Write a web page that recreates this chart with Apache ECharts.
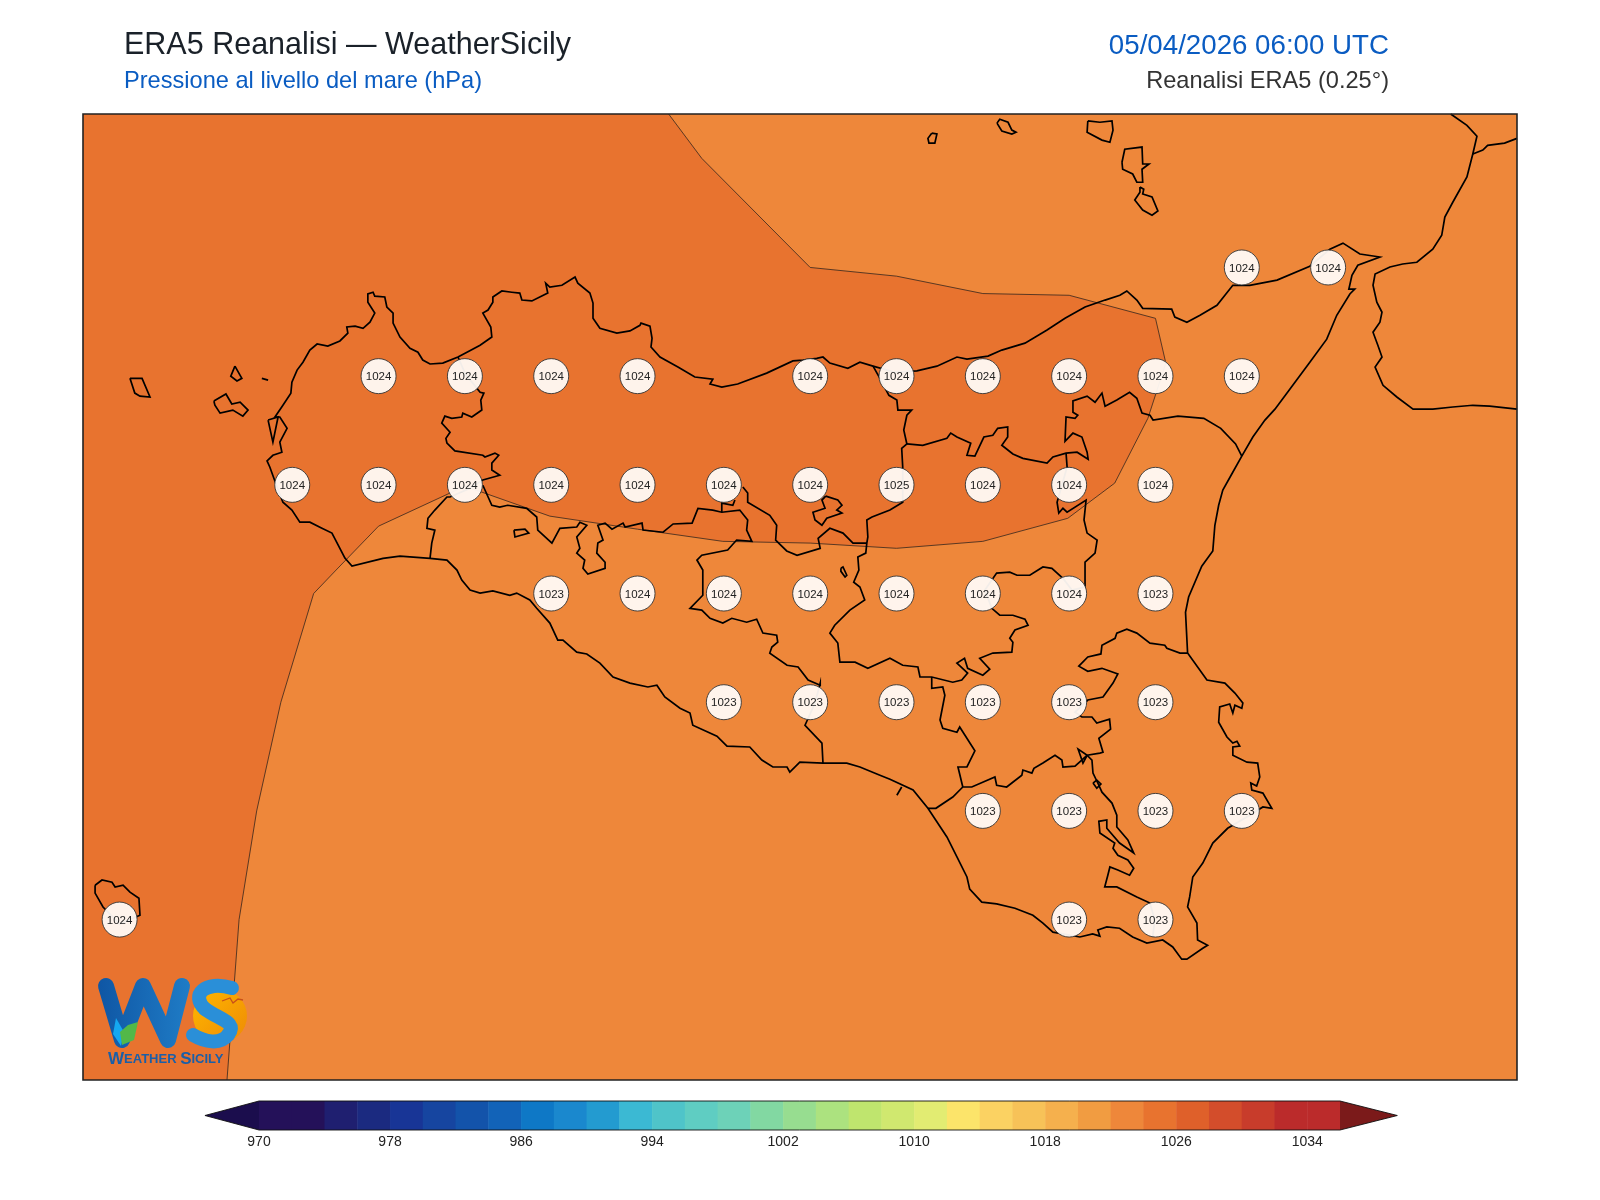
<!DOCTYPE html>
<html><head><meta charset="utf-8">
<style>html,body{margin:0;padding:0;background:#fff}#c{width:1600px;height:1200px}</style>
<script src="https://cdn.jsdelivr.net/npm/echarts@6/dist/echarts.min.js"></script>
</head><body><div id="c"></div>
<script>
const lonMin=11.894, lonMax=16.047, latMin=36.381, latMax=38.603;
// Sea level pressure labels on the 0.25 degree grid
const stationLon=[15.25,15.5, 12.75,13,13.25,13.5,14,14.25,14.5,14.75,15,15.25, 12.5,12.75,13,13.25,13.5,13.75,14,14.25,14.5,14.75,15, 13.25,13.5,13.75,14,14.25,14.5,14.75,15, 13.75,14,14.25,14.5,14.75,15, 14.5,14.75,15,15.25, 12,14.75,15];
const stationLat=[38.25,38.25, 38,38,38,38,38,38,38,38,38,38, 37.75,37.75,37.75,37.75,37.75,37.75,37.75,37.75,37.75,37.75,37.75, 37.5,37.5,37.5,37.5,37.5,37.5,37.5,37.5, 37.25,37.25,37.25,37.25,37.25,37.25, 37,37,37,37, 36.75,36.75,36.75];
const stationHpa=[1024,1024, 1024,1024,1024,1024,1024,1024,1024,1024,1024,1024, 1024,1024,1024,1024,1024,1024,1024,1025,1024,1024,1024, 1023,1024,1024,1024,1024,1024,1024,1023, 1023,1023,1023,1023,1023,1023, 1023,1023,1023,1023, 1024,1023,1023];
// Colour scale
const levels=[970,972,974,976,978,980,982,984,986,988,990,992,994,996,998,1000,1002,1004,1006,1008,1010,1012,1014,1016,1018,1020,1022,1024,1026,1028,1030,1032,1034];
const levelColors=['#241159','#241159','#1f1f70','#1b2a80','#183596','#1645a0','#1353aa','#1263b8','#0e78c6','#1a88ce','#239bd0','#3bb9d3','#4fc4c9','#5fcdc2','#6dd2b8','#82d8a2','#97dd90','#ace27f','#bfe56e','#d0e86f','#e2ec72','#fce46a','#fbd262','#f7c258','#f5b04d','#f19c41','#ee873a','#e8732f','#df602a','#d34d2b','#c83c2b','#bb2b2b','#bb2b2b'];
const tickValues=[970,978,986,994,1002,1010,1018,1026,1034];
// 1024 hPa contour, open ends on the map frame
const contour1024=[[13.59,38.603],[13.686,38.501],[14.0,38.25],[14.25,38.23],[14.5,38.19],[14.75,38.186],[15.0,38.133],[15.03,38.03],[14.978,37.903],[14.882,37.754],[14.746,37.673],[14.5,37.62],[14.25,37.604],[14.0,37.616],[13.747,37.62],[13.5,37.648],[13.246,37.678],[13.0,37.747],[12.75,37.655],[12.627,37.554],[12.562,37.5],[12.467,37.25],[12.397,37.0],[12.346,36.75],[12.311,36.381]];
const sicilyCoast=[[12.653,37.581],[12.615,37.639],[12.586,37.65],[12.551,37.664],[12.522,37.664],[12.499,37.692],[12.473,37.71],[12.456,37.745],[12.435,37.791],[12.427,37.805],[12.444,37.818],[12.47,37.825],[12.464,37.848],[12.485,37.88],[12.464,37.906],[12.45,37.906],[12.473,37.933],[12.496,37.961],[12.499,37.986],[12.514,38.014],[12.531,38.032],[12.551,38.06],[12.572,38.074],[12.603,38.069],[12.638,38.081],[12.661,38.099],[12.658,38.113],[12.682,38.115],[12.705,38.11],[12.725,38.124],[12.739,38.145],[12.719,38.17],[12.719,38.189],[12.734,38.193],[12.739,38.184],[12.768,38.182],[12.774,38.159],[12.792,38.145],[12.792,38.122],[12.812,38.09],[12.841,38.064],[12.864,38.055],[12.878,38.037],[12.899,38.028],[12.936,38.03],[12.98,38.044],[13.006,38.055],[13.044,38.071],[13.078,38.09],[13.075,38.113],[13.052,38.145],[13.067,38.152],[13.081,38.17],[13.081,38.182],[13.107,38.196],[13.136,38.193],[13.159,38.191],[13.165,38.175],[13.194,38.173],[13.24,38.191],[13.234,38.214],[13.246,38.205],[13.281,38.209],[13.319,38.228],[13.327,38.214],[13.362,38.191],[13.371,38.168],[13.371,38.133],[13.391,38.11],[13.44,38.099],[13.478,38.104],[13.507,38.117],[13.51,38.122],[13.536,38.115],[13.542,38.087],[13.539,38.067],[13.565,38.044],[13.617,38.021],[13.666,37.998],[13.718,37.993],[13.71,37.982],[13.744,37.975],[13.79,37.982],[13.874,38.007],[13.95,38.035],[13.979,38.037],[14.019,38.041],[14.037,38.044],[14.057,38.03],[14.109,38.018],[14.144,38.032],[14.182,38.023],[14.245,38.009],[14.309,38.012],[14.367,38.023],[14.425,38.044],[14.454,38.039],[14.515,38.046],[14.555,38.06],[14.622,38.076],[14.686,38.106],[14.738,38.133],[14.796,38.159],[14.854,38.175],[14.897,38.186],[14.917,38.196],[14.946,38.175],[14.963,38.156],[15.047,38.154],[15.056,38.136],[15.091,38.124],[15.129,38.14],[15.178,38.163],[15.224,38.209],[15.273,38.209],[15.352,38.221],[15.447,38.253],[15.505,38.292],[15.543,38.306],[15.592,38.281],[15.65,38.274],[15.586,38.255],[15.569,38.232],[15.56,38.2],[15.577,38.2],[15.563,38.189],[15.525,38.14],[15.496,38.085],[15.447,38.032],[15.389,37.97],[15.346,37.924],[15.317,37.899],[15.282,37.86],[15.25,37.816],[15.221,37.775],[15.195,37.738],[15.183,37.703],[15.172,37.657],[15.166,37.598],[15.134,37.563],[15.096,37.492],[15.087,37.457],[15.093,37.363],[15.149,37.301],[15.201,37.294],[15.23,37.271],[15.253,37.248],[15.25,37.236],[15.23,37.243],[15.224,37.225],[15.215,37.246],[15.186,37.239],[15.183,37.204],[15.207,37.17],[15.224,37.156],[15.236,37.16],[15.244,37.149],[15.224,37.147],[15.224,37.128],[15.265,37.112],[15.296,37.11],[15.302,37.078],[15.293,37.057],[15.276,37.064],[15.279,37.048],[15.311,37.041],[15.337,37.006],[15.311,37.009],[15.273,36.99],[15.209,36.96],[15.166,36.926],[15.137,36.88],[15.108,36.848],[15.099,36.802],[15.093,36.779],[15.12,36.742],[15.122,36.703],[15.151,36.691],[15.137,36.684],[15.091,36.659],[15.076,36.659],[15.05,36.687],[15.021,36.703],[14.975,36.696],[14.934,36.71],[14.896,36.73],[14.859,36.733],[14.833,36.726],[14.839,36.712],[14.818,36.717],[14.781,36.71],[14.703,36.721],[14.674,36.742],[14.645,36.76],[14.593,36.776],[14.54,36.786],[14.497,36.79],[14.462,36.82],[14.454,36.848],[14.425,36.894],[14.396,36.94],[14.341,37.006],[14.298,37.048],[14.231,37.073],[14.202,37.082],[14.144,37.101],[14.106,37.11],[14.037,37.11],[13.97,37.112],[13.941,37.089],[13.933,37.101],[13.892,37.101],[13.86,37.117],[13.825,37.147],[13.759,37.149],[13.73,37.172],[13.66,37.197],[13.652,37.225],[13.623,37.236],[13.579,37.262],[13.556,37.289],[13.53,37.285],[13.478,37.294],[13.429,37.308],[13.391,37.34],[13.353,37.361],[13.324,37.365],[13.284,37.393],[13.269,37.393],[13.246,37.432],[13.208,37.466],[13.188,37.485],[13.15,37.501],[13.13,37.496],[13.081,37.506],[13.044,37.501],[13.015,37.508],[12.991,37.531],[12.977,37.554],[12.948,37.577],[12.899,37.581],[12.812,37.586],[12.763,37.581],[12.673,37.563],[12.653,37.581]];
const boundaryTrapani=[[12.98,38.044],[13.003,38.002],[13.023,37.984],[13.044,37.963],[13.055,37.961],[13.046,37.945],[13.049,37.922],[13.02,37.906],[12.994,37.915],[12.991,37.906],[12.962,37.903],[12.942,37.908],[12.933,37.892],[12.957,37.871],[12.945,37.857],[12.948,37.846],[12.971,37.828],[13.052,37.818],[13.058,37.814],[13.087,37.823],[13.098,37.818],[13.078,37.8],[13.078,37.784],[13.101,37.772],[13.052,37.761],[13.015,37.742],[12.957,37.722],[12.948,37.722],[12.913,37.692],[12.893,37.673],[12.89,37.65],[12.913,37.646],[12.904,37.616],[12.899,37.581]];
const boundaryAgrigento=[[13.052,37.749],[13.078,37.703],[13.101,37.699],[13.124,37.703],[13.179,37.696],[13.208,37.676],[13.211,37.646],[13.252,37.616],[13.275,37.65],[13.324,37.653],[13.333,37.664],[13.353,37.657],[13.324,37.63],[13.333,37.604],[13.324,37.593],[13.347,37.577],[13.342,37.558],[13.356,37.545],[13.406,37.558],[13.406,37.572],[13.382,37.593],[13.385,37.616],[13.4,37.623],[13.385,37.657],[13.406,37.662],[13.426,37.648],[13.458,37.662],[13.464,37.653],[13.513,37.662],[13.516,37.646],[13.574,37.641],[13.603,37.66],[13.658,37.662],[13.675,37.696],[13.718,37.692],[13.744,37.687],[13.796,37.692],[13.819,37.669],[13.816,37.646],[13.831,37.62],[13.787,37.623],[13.761,37.6],[13.686,37.588],[13.672,37.577],[13.689,37.554],[13.689,37.496],[13.652,37.466],[13.686,37.462],[13.71,37.443],[13.747,37.432],[13.773,37.443],[13.816,37.434],[13.845,37.441],[13.863,37.409],[13.903,37.404],[13.906,37.388],[13.889,37.377],[13.883,37.363],[13.933,37.335],[13.965,37.331],[13.994,37.301],[14.029,37.289],[14.029,37.294],[14.014,37.248],[13.985,37.197],[14.034,37.156],[14.037,37.11]];
const boundaryHook=[[13.744,37.687],[13.744,37.708],[13.776,37.703],[13.782,37.715]];
const boundaryPalermoEast=[[13.805,37.745],[13.819,37.731],[13.819,37.71],[13.883,37.68],[13.903,37.657],[13.9,37.623],[13.932,37.598],[13.962,37.588],[14.029,37.604],[14.023,37.627],[14.057,37.65],[14.095,37.639],[14.124,37.616],[14.164,37.616]];
const boundaryCentral=[[14.182,38.023],[14.202,37.995],[14.228,37.956],[14.251,37.945],[14.254,37.922],[14.294,37.922],[14.28,37.91],[14.271,37.876],[14.28,37.844],[14.265,37.834],[14.268,37.791],[14.268,37.71],[14.231,37.692],[14.179,37.676],[14.164,37.669],[14.167,37.63],[14.164,37.616],[14.161,37.593],[14.138,37.584],[14.141,37.554],[14.126,37.526],[14.144,37.515],[14.158,37.485],[14.115,37.462],[14.071,37.427],[14.057,37.409],[14.08,37.386],[14.086,37.342],[14.13,37.342],[14.167,37.328],[14.231,37.351],[14.268,37.335],[14.312,37.331],[14.318,37.308],[14.352,37.308],[14.413,37.296],[14.439,37.301],[14.456,37.317],[14.425,37.34],[14.447,37.351],[14.456,37.328],[14.5,37.312],[14.52,37.326],[14.491,37.351],[14.529,37.363],[14.584,37.365],[14.587,37.388],[14.578,37.397],[14.593,37.416],[14.631,37.427],[14.622,37.441],[14.587,37.45],[14.549,37.45],[14.526,37.466],[14.506,37.508],[14.54,37.547],[14.578,37.549],[14.599,37.542],[14.636,37.542],[14.674,37.561],[14.7,37.558],[14.732,37.535],[14.758,37.508],[14.796,37.515],[14.796,37.572],[14.825,37.593],[14.831,37.623],[14.802,37.639],[14.793,37.669],[14.799,37.715],[14.744,37.687],[14.732,37.696],[14.72,37.685],[14.715,37.71],[14.744,37.791],[14.741,37.823]];
const boundaryMessina=[[14.28,37.844],[14.326,37.841],[14.396,37.857],[14.407,37.869],[14.425,37.86],[14.465,37.846],[14.454,37.818],[14.477,37.816],[14.503,37.86],[14.529,37.864],[14.543,37.88],[14.572,37.883],[14.572,37.86],[14.555,37.841],[14.587,37.821],[14.616,37.811],[14.686,37.8],[14.703,37.814],[14.741,37.823],[14.773,37.825],[14.805,37.809],[14.802,37.825],[14.787,37.86],[14.761,37.869],[14.738,37.85],[14.741,37.906],[14.767,37.903],[14.775,37.91],[14.761,37.917],[14.761,37.943],[14.802,37.954],[14.825,37.94],[14.845,37.961],[14.854,37.931],[14.888,37.945],[14.925,37.963],[14.946,37.949],[14.961,37.915],[14.984,37.91],[14.993,37.899],[15.065,37.908],[15.14,37.903],[15.189,37.88],[15.232,37.844],[15.25,37.816]];
const boundaryCatania=[[15.093,37.363],[15.071,37.363],[15.033,37.374],[15.027,37.381],[14.984,37.386],[14.946,37.409],[14.917,37.418],[14.888,37.409],[14.883,37.397],[14.845,37.381],[14.842,37.361],[14.804,37.354],[14.778,37.333],[14.804,37.321],[14.845,37.328],[14.891,37.315],[14.877,37.294],[14.848,37.262],[14.804,37.255],[14.767,37.227],[14.787,37.216],[14.816,37.216],[14.83,37.202],[14.867,37.211],[14.87,37.188],[14.836,37.167],[14.848,37.135],[14.839,37.133],[14.802,37.128],[14.767,37.103],[14.732,37.101],[14.729,37.117],[14.709,37.128],[14.674,37.11],[14.648,37.098],[14.642,37.087],[14.616,37.094],[14.613,37.082],[14.569,37.055],[14.54,37.059],[14.535,37.078],[14.468,37.055],[14.442,37.055],[14.413,37.032],[14.364,37.006],[14.341,37.006]];
const boundaryEnna=[[14.352,37.308],[14.352,37.282],[14.384,37.285],[14.39,37.266],[14.376,37.209],[14.384,37.19],[14.425,37.181],[14.433,37.193],[14.477,37.138],[14.454,37.101],[14.428,37.101],[14.442,37.055]];
const boundarySiracusa=[[14.802,37.128],[14.816,37.117],[14.819,37.087],[14.836,37.059],[14.845,37.043],[14.874,37.018],[14.888,36.99],[14.888,36.963],[14.92,36.933],[14.937,36.903],[14.896,36.926],[14.859,36.96],[14.859,36.979],[14.836,36.976],[14.839,36.949],[14.882,36.926],[14.877,36.914],[14.891,36.898],[14.92,36.887],[14.937,36.868],[14.925,36.852],[14.891,36.864],[14.868,36.871],[14.862,36.852],[14.853,36.825],[14.888,36.825],[14.946,36.802],[14.984,36.788],[14.998,36.749],[14.992,36.71]];
const southTick=[[14.251,37.036],[14.265,37.055]];
const lakeBiviere=[[14.802,37.128],[14.776,37.142],[14.79,37.11],[14.802,37.128]];
const lakeLoop=[[14.819,37.064],[14.83,37.071],[14.842,37.062],[14.83,37.052],[14.819,37.064]];
const lakeArancio=[[13.142,37.646],[13.174,37.648],[13.185,37.639],[13.145,37.63],[13.142,37.646]];
const lakePozzillo=[[14.089,37.558],[14.095,37.561],[14.106,37.542],[14.101,37.538],[14.089,37.551],[14.089,37.558]];
const lakeScanzano=[[14.045,37.724],[14.08,37.715],[14.092,37.703],[14.077,37.692],[14.092,37.685],[14.048,37.673],[14.034,37.657],[14.014,37.669],[14.008,37.687],[14.043,37.696],[14.034,37.715],[14.045,37.724]];
const marettimo=[[12.03,37.995],[12.065,37.995],[12.088,37.952],[12.059,37.954],[12.044,37.961],[12.03,37.995]];
const levanzo=[[12.334,38.023],[12.354,37.995],[12.34,37.989],[12.322,38.0],[12.334,38.023]];
const favignana=[[12.273,37.943],[12.308,37.959],[12.325,37.936],[12.349,37.94],[12.372,37.922],[12.357,37.908],[12.328,37.922],[12.291,37.915],[12.276,37.933],[12.273,37.943]];
const formica=[[12.412,37.995],[12.43,37.991]];
const isolaLunga=[[12.43,37.899],[12.459,37.906],[12.444,37.848],[12.43,37.899]];
const pantelleria=[[11.929,36.829],[11.949,36.841],[11.978,36.836],[11.987,36.825],[12.01,36.829],[12.03,36.813],[12.056,36.799],[12.059,36.76],[12.0,36.74],[11.952,36.779],[11.929,36.811],[11.929,36.829]];
const alicudi=[[14.352,38.559],[14.367,38.557],[14.361,38.536],[14.344,38.536],[14.341,38.547],[14.352,38.559]];
const filicudi=[[14.541,38.582],[14.549,38.591],[14.573,38.584],[14.584,38.566],[14.596,38.561],[14.584,38.557],[14.555,38.564],[14.541,38.582]];
const salina=[[14.804,38.587],[14.839,38.584],[14.874,38.587],[14.877,38.566],[14.868,38.538],[14.845,38.543],[14.802,38.561],[14.804,38.587]];
const lipari=[[14.903,38.492],[14.911,38.522],[14.961,38.527],[14.963,38.488],[14.981,38.488],[14.961,38.476],[14.963,38.446],[14.946,38.446],[14.934,38.465],[14.905,38.476],[14.903,38.492]];
const vulcano=[[14.955,38.435],[14.966,38.43],[14.963,38.419],[14.99,38.412],[15.007,38.38],[14.99,38.37],[14.963,38.382],[14.94,38.405],[14.955,38.423],[14.955,38.435]];
const calabria=[[15.855,38.603],[15.902,38.577],[15.931,38.552],[15.919,38.511],[15.902,38.458],[15.861,38.4],[15.838,38.366],[15.829,38.324],[15.803,38.292],[15.757,38.262],[15.716,38.258],[15.679,38.251],[15.636,38.235],[15.63,38.209],[15.641,38.17],[15.656,38.147],[15.65,38.124],[15.63,38.101],[15.644,38.071],[15.656,38.044],[15.636,38.021],[15.659,37.979],[15.699,37.952],[15.746,37.924],[15.803,37.924],[15.861,37.929],[15.919,37.933],[15.968,37.931],[16.047,37.924]];
const calabriaBranch=[[15.919,38.511],[15.948,38.52],[15.962,38.531],[16.011,38.536],[16.047,38.547]];
const allOutlines=[sicilyCoast,boundaryTrapani,boundaryAgrigento,boundaryHook,boundaryPalermoEast,boundaryCentral,boundaryMessina,boundaryCatania,boundaryEnna,boundarySiracusa,southTick,lakeBiviere,lakeLoop,lakeArancio,lakePozzillo,lakeScanzano,marettimo,levanzo,favignana,formica,isolaLunga,pantelleria,alicudi,filicudi,salina,lipari,vulcano,calabria,calabriaBranch];

const LIGHT='#ee873a', DARK='#e8732f';
const FONT='"Liberation Sans", Arial, sans-serif';
const chart=echarts.init(document.getElementById('c'),null,{renderer:'canvas'});
const darkRegion=contour1024.concat([[lonMin,latMin],[lonMin,latMax]]);
const scaleEnd=1036, tipL=966.7, tipR=1039.5;
const sBlue='#2a8fd8';
const LOGO_Z=20;
chart.setOption({
  animation:false,
  backgroundColor:'#fff',
  title:[
    {text:'ERA5 Reanalisi — WeatherSicily',left:124,top:30,padding:0,textStyle:{fontFamily:FONT,fontSize:30.5,fontWeight:'normal',color:'#1a2129'}},
    {text:'Pressione al livello del mare (hPa)',left:124,top:69,padding:0,textStyle:{fontFamily:FONT,fontSize:23.6,fontWeight:'normal',color:'#0a5cc2'}},
    {text:'05/04/2026 06:00 UTC',right:211,top:32,padding:0,textStyle:{fontFamily:FONT,fontSize:27.7,fontWeight:'normal',color:'#0a5cc2'}},
    {text:'Reanalisi ERA5 (0.25°)',right:211,top:69,padding:0,textStyle:{fontFamily:FONT,fontSize:23.6,fontWeight:'normal',color:'#333'}}
  ],
  grid:[
    {left:83,top:114,width:1434,height:966,show:true,backgroundColor:LIGHT,borderWidth:0,containLabel:false},
    {left:259,top:1101,width:1081,height:29,show:false,containLabel:false}
  ],
  xAxis:[
    {gridIndex:0,type:'value',min:lonMin,max:lonMax,show:false},
    {gridIndex:1,type:'value',min:970,max:scaleEnd,axisLine:{show:false},axisTick:{show:false},splitLine:{show:false},
     axisLabel:{customValues:tickValues,margin:5,fontFamily:FONT,fontSize:14,color:'#222',formatter:v=>String(v)}}
  ],
  yAxis:[
    {gridIndex:0,type:'value',min:latMin,max:latMax,show:false},
    {gridIndex:1,type:'value',min:0,max:1,show:false}
  ],
  series:[
    {type:'custom',xAxisIndex:0,yAxisIndex:0,z:1,silent:true,clip:true,data:[[lonMin,latMin]],
     renderItem:(p,api)=>({type:'polygon',shape:{points:darkRegion.map(c=>api.coord(c))},style:{fill:DARK,stroke:null}})},
    {type:'lines',coordinateSystem:'cartesian2d',xAxisIndex:0,yAxisIndex:0,polyline:true,z:2,silent:true,
     data:[{coords:contour1024}],lineStyle:{color:'#4a3020',width:0.9,opacity:1}},
    {type:'lines',coordinateSystem:'cartesian2d',xAxisIndex:0,yAxisIndex:0,polyline:true,z:3,silent:true,clip:true,
     data:allOutlines.map(o=>({coords:o})),lineStyle:{color:'#000',width:1.7,opacity:1}},
    {type:'scatter',xAxisIndex:0,yAxisIndex:0,z:5,silent:true,symbol:'circle',symbolSize:35,
     data:stationHpa.map((v,i)=>[stationLon[i],stationLat[i],v]),
     itemStyle:{color:'rgba(255,250,246,0.95)',borderColor:'#333',borderWidth:0.9,opacity:1},
     label:{show:true,position:'inside',offset:[0,1],formatter:p=>String(p.value[2]),fontFamily:FONT,fontSize:11.5,color:'#222'}},
    {type:'custom',xAxisIndex:0,yAxisIndex:0,z:8,silent:true,clip:false,data:[[lonMin,latMin]],
     renderItem:(p,api)=>({type:'polygon',shape:{points:[[lonMin,latMin],[lonMax,latMin],[lonMax,latMax],[lonMin,latMax]].map(c=>api.coord(c))},style:{fill:'none',stroke:'#222',lineWidth:1.6}})},
    {type:'custom',xAxisIndex:1,yAxisIndex:1,z:4,silent:true,clip:false,encode:{x:0},
     data:levels.map((l,i)=>[l,l+2,i]),
     renderItem:(p,api)=>{const a=api.coord([api.value(0),1]),b=api.coord([api.value(1),0]);
       return {type:'rect',shape:{x:a[0],y:a[1],width:b[0]-a[0]+0.5,height:b[1]-a[1]},style:{fill:levelColors[api.value(2)]}};}},
    {type:'custom',xAxisIndex:1,yAxisIndex:1,z:5,silent:true,clip:false,data:[[970,0]],
     renderItem:(p,api)=>({type:'group',children:[
       {type:'polygon',shape:{points:[[970,1],[970,0],[tipL,0.5]].map(c=>api.coord(c))},style:{fill:'#1b0d4d'}},
       {type:'polygon',shape:{points:[[scaleEnd,1],[scaleEnd,0],[tipR,0.5]].map(c=>api.coord(c))},style:{fill:'#7b1a1a'}},
       {type:'polygon',shape:{points:[[970,1],[scaleEnd,1],[tipR,0.5],[scaleEnd,0],[970,0],[tipL,0.5]].map(c=>api.coord(c))},style:{fill:'none',stroke:'#111',lineWidth:0.9}}
     ]})}
  ],
  graphic:[
    {type:'circle',z:LOGO_Z,silent:true,shape:{cx:220,cy:1016,r:27},style:{fill:new echarts.graphic.LinearGradient(0,0,1,1,[{offset:0,color:'#ffb800'},{offset:1,color:'#ee8a05'}])}},
    {type:'bezierCurve',z:LOGO_Z,silent:true,shape:{x1:232,y1:988,cpx1:205,cpy1:980,cpx2:190,cpy2:995,x2:205,y2:1009},style:{fill:'none',stroke:sBlue,lineWidth:14,lineCap:'round'}},
    {type:'bezierCurve',z:LOGO_Z,silent:true,shape:{x1:205,y1:1009,cpx1:220,cpy1:1020,cpx2:238,cpy2:1022,x2:228,y2:1035},style:{fill:'none',stroke:sBlue,lineWidth:14,lineCap:'round'}},
    {type:'bezierCurve',z:LOGO_Z,silent:true,shape:{x1:228,y1:1035,cpx1:220,cpy1:1045,cpx2:205,cpy2:1042,x2:193,y2:1035},style:{fill:'none',stroke:sBlue,lineWidth:14,lineCap:'round'}},
    {type:'polyline',z:LOGO_Z,silent:true,shape:{points:[[106,986],[122,1040],[143,986],[168,1040],[182,986]]},style:{fill:'none',stroke:new echarts.graphic.LinearGradient(0,0,1,0,[{offset:0,color:'#0f56a4'},{offset:1,color:'#1f7cc6'}]),lineWidth:16,lineJoin:'round',lineCap:'round'}},
    {type:'polygon',z:LOGO_Z,silent:true,shape:{points:[[116,1018],[124,1032],[121,1046],[113,1034]]},style:{fill:'#15a8f0'}},
    {type:'polygon',z:LOGO_Z,silent:true,shape:{points:[[138,1022],[134,1040],[122,1045],[120,1032],[128,1025]]},style:{fill:'#52b848'}},
    {type:'polyline',z:LOGO_Z,silent:true,shape:{points:[[222,1001],[230,998],[233,1003],[238,999],[243,1000]]},style:{fill:'none',stroke:'#c8501a',lineWidth:1.3}},
    {type:'text',z:LOGO_Z,silent:true,x:108,y:1051,style:{text:'{a|W}{b|EATHER }{a|S}{b|ICILY}',rich:{a:{fontFamily:FONT,fontWeight:'bold',fontSize:17,fill:'#1a5fa8'},b:{fontFamily:FONT,fontWeight:'bold',fontSize:13,fill:'#1a5fa8'}}}}
  ]
});
</script></body></html>
